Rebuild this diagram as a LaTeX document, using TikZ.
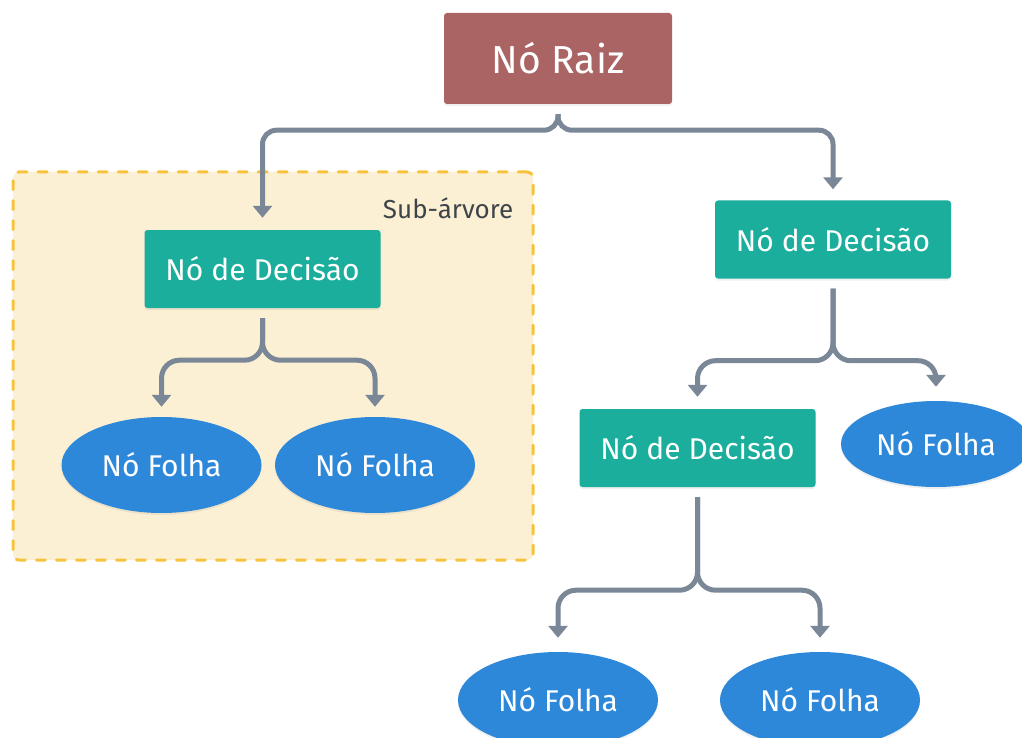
\documentclass[tikz,border=0pt]{standalone}
\usepackage{fontspec}
\setmainfont{Fira Sans}
\usepackage{tikz}
\usetikzlibrary{arrows.meta, shapes.geometric, shadows}
\definecolor{rootred}{RGB}{170,100,100}
\definecolor{decteal}{RGB}{27,174,156}
\definecolor{leafblue}{RGB}{46,136,218}
\definecolor{linkgray}{RGB}{122,135,151}
\definecolor{subfill}{RGB}{252,240,212}
\definecolor{subdraw}{RGB}{247,195,60}
\definecolor{subtext}{RGB}{62,68,74}

\begin{document}
\begin{tikzpicture}[x=1pt, y=1pt,
    softshadow/.style={drop shadow={opacity=0.12, shadow xshift=0pt, shadow yshift=-2pt}},
    rootbox/.style={
      fill=rootred, text=white, rounded corners=3pt, softshadow,
      minimum width=228pt, minimum height=91pt, inner sep=0pt,
      font=\fontsize{39}{44}\selectfont
    },
    decbox/.style={
      fill=decteal, text=white, rounded corners=3pt, softshadow,
      minimum width=236pt, minimum height=78pt, inner sep=0pt,
      font=\fontsize{30}{35}\selectfont
    },
    leaf/.style={
      ellipse, fill=leafblue, text=white, softshadow,
      minimum width=200pt, minimum height=96pt, inner sep=0pt,
      font=\fontsize{30}{35}\selectfont
    },
    subbox/.style={
      draw=subdraw, fill=subfill, line width=3pt, dash pattern=on 9pt off 11pt,
      line cap=round, rounded corners=6pt, minimum width=520pt, minimum height=388pt
    },
    arr/.style={-{Triangle[width=19pt,length=12pt]}, line width=5pt, linkgray, rounded corners=18pt},
  ]
  \useasboundingbox (0,0) rectangle (1022,-738);

  % sub-tree frame
  \node[subbox] (sub) at (273,-366) {};
  \node[anchor=base east, inner sep=0pt, text=subtext, font=\fontsize{26}{30}\selectfont]
    (sublab) at ([xshift=-21pt, yshift=-48pt]sub.north east) {Sub-árvore};

  % nodes
  \node[rootbox] (root) at (558,-58.5) {Nó Raiz};
  \node[decbox] (dl) at (262.5,-269) {Nó de Decisão};
  \node[decbox] (dr) at (833,-239.5) {Nó de Decisão};
  \node[decbox] (dm) at (697.5,-448) {Nó de Decisão};
  \node[leaf] (ll) at (161.5,-465) {Nó Folha};
  \node[leaf] (lr) at (375,-465) {Nó Folha};
  \node[leaf, minimum width=190pt, minimum height=86pt] (rl) at (936,-444) {Nó Folha};
  \node[leaf] (bl) at (558,-700) {Nó Folha};
  \node[leaf] (br) at (820,-700) {Nó Folha};

  % connectors
  \draw[arr, rounded corners=14pt] ([yshift=-10pt]root.south) -- ++(0,-16) -| ([yshift=12pt]dl.north);
  \draw[arr, rounded corners=14pt] ([yshift=-10pt]root.south) -- ++(0,-16) -| ([yshift=11pt]dr.north);
  \draw[arr] ([yshift=-10pt]dl.south) -- ++(0,-42) -| ([yshift=10pt]ll.north);
  \draw[arr] ([yshift=-10pt]dl.south) -- ++(0,-42) -| ([yshift=10pt]lr.north);
  \draw[arr] ([yshift=-10pt]dr.south) -- ++(0,-72) -| ([yshift=12pt]dm.north);
  \draw[arr] ([yshift=-10pt]dr.south) -- ++(0,-72) -| ([yshift=14pt]rl.north);
  \draw[arr] ([yshift=-10pt]dm.south) -- ++(0,-93) -| ([yshift=14pt]bl.north);
  \draw[arr] ([yshift=-10pt]dm.south) -- ++(0,-93) -| ([yshift=14pt]br.north);
\end{tikzpicture}
\end{document}
